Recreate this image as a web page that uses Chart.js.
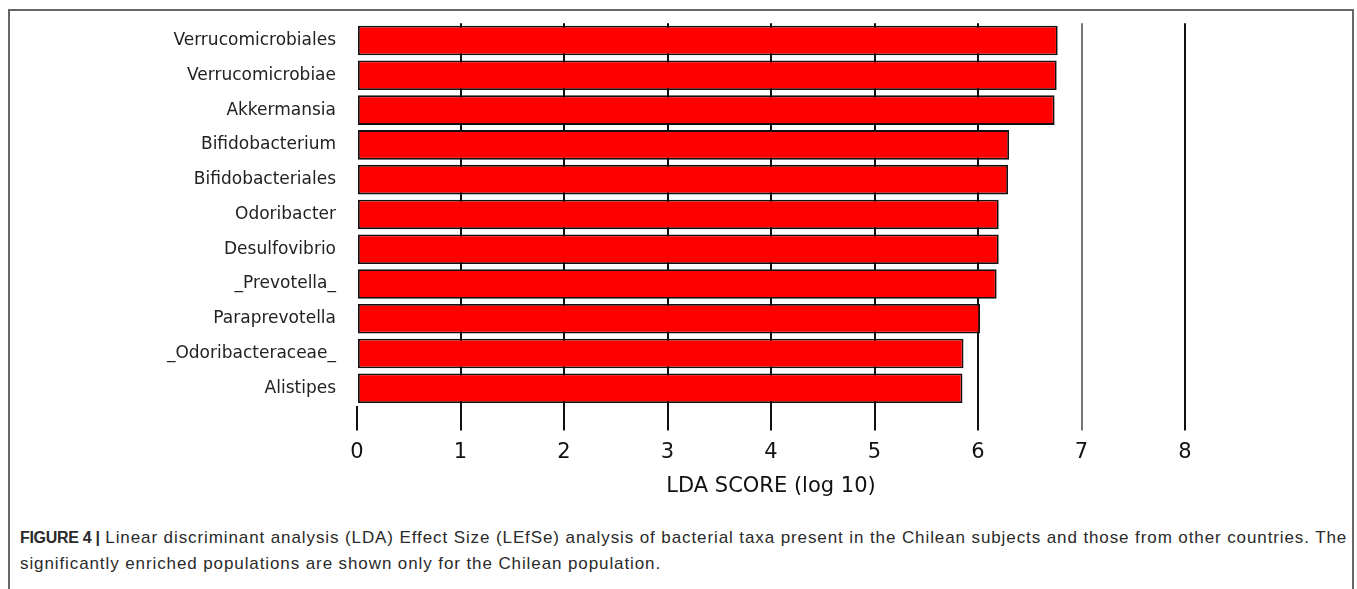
<!DOCTYPE html>
<html>
<head>
<meta charset="utf-8">
<script src="https://cdn.jsdelivr.net/npm/chart.js@4.4.0/dist/chart.umd.min.js"></script>
<style>
  html, body { margin: 0; padding: 0; background: #fff; }
  #frame {
    position: absolute; left: 8px; top: 9px; width: 1346px; height: 600px;
    border: 2px solid #666; border-bottom: none; box-sizing: border-box;
  }
  #wrap { position: absolute; left: 0; top: 0; width: 1357px; height: 499px; }
  #caption {
    position: absolute; left: 20px; top: 525px; width: 1335px;
    font-family: "Liberation Sans", Arial, sans-serif;
    font-size: 17px; letter-spacing: 0.9px; line-height: 26px; color: #2a2a2a; white-space: nowrap;
  }
  #caption b { font-weight: bold; font-size: 16px; letter-spacing: -0.3px; }
</style>
</head>
<body>
<div id="frame"></div>
<div id="wrap"><canvas id="lda_chart"></canvas></div>
<div id="caption"><b>FIGURE 4 |</b> Linear discriminant analysis (LDA) Effect Size (LEfSe) analysis of bacterial taxa present in the Chilean subjects and those from other countries. The<br>significantly enriched populations are shown only for the Chilean population.</div>
<script>
// taxa, top to bottom
const taxa = [
  'Verrucomicrobiales',
  'Verrucomicrobiae',
  'Akkermansia',
  'Bifidobacterium',
  'Bifidobacteriales',
  'Odoribacter',
  'Desulfovibrio',
  '_Prevotella_',
  'Paraprevotella',
  '_Odoribacteraceae_',
  'Alistipes'
];
const ldaScores = [6.77, 6.76, 6.74, 6.30, 6.29, 6.20, 6.20, 6.18, 6.02, 5.86, 5.85];
const xTicks = [0, 1, 2, 3, 4, 5, 6, 7, 8];

const ctx = document.getElementById('lda_chart');
const mplFont = "'DejaVu Sans', 'Verdana', sans-serif";

new Chart(ctx, {
  type: 'bar',
  data: {
    labels: taxa,
    datasets: [{
      data: ldaScores,
      backgroundColor: '#ff0000',
      borderColor: '#111',
      borderWidth: 1.8,
      borderSkipped: false,
      barPercentage: 0.85,
      categoryPercentage: 1
    }]
  },
  options: {
    indexAxis: 'y',
    responsive: true,
    maintainAspectRatio: false,
    animation: false,
    layout: { padding: { top: 15, right: 172, left: 0, bottom: 0 } },
    plugins: {
      legend: { display: false },
      tooltip: { enabled: false }
    },
    scales: {
      x: {
        min: 0,
        max: 8,
        z: 1,
        afterBuildTicks: (scale) => { scale.ticks = xTicks.map(v => ({ value: v })); },
        border: { display: false },
        grid: {
          color: (c) => c.index === 0 ? 'rgba(0,0,0,0)' : (c.index === 7 ? '#777' : '#111'),
          tickColor: (c) => c.index === 7 ? '#777' : '#111',
          lineWidth: 2,
          drawTicks: true,
          tickLength: 25
        },
        ticks: {
          color: '#111',
          padding: 9,
          font: { family: mplFont, size: 21 }
        },
        title: {
          display: true,
          text: 'LDA SCORE (log 10)',
          color: '#111',
          padding: { top: 0, bottom: 0 },
          font: { family: mplFont, size: 21 }
        }
      },
      y: {
        border: { display: false },
        grid: { display: false },
        afterFit: (scale) => { scale.width = 357; },
        ticks: {
          color: '#222',
          padding: 13,
          font: { family: mplFont, size: 17 }
        }
      }
    }
  }
});
</script>
</body>
</html>
